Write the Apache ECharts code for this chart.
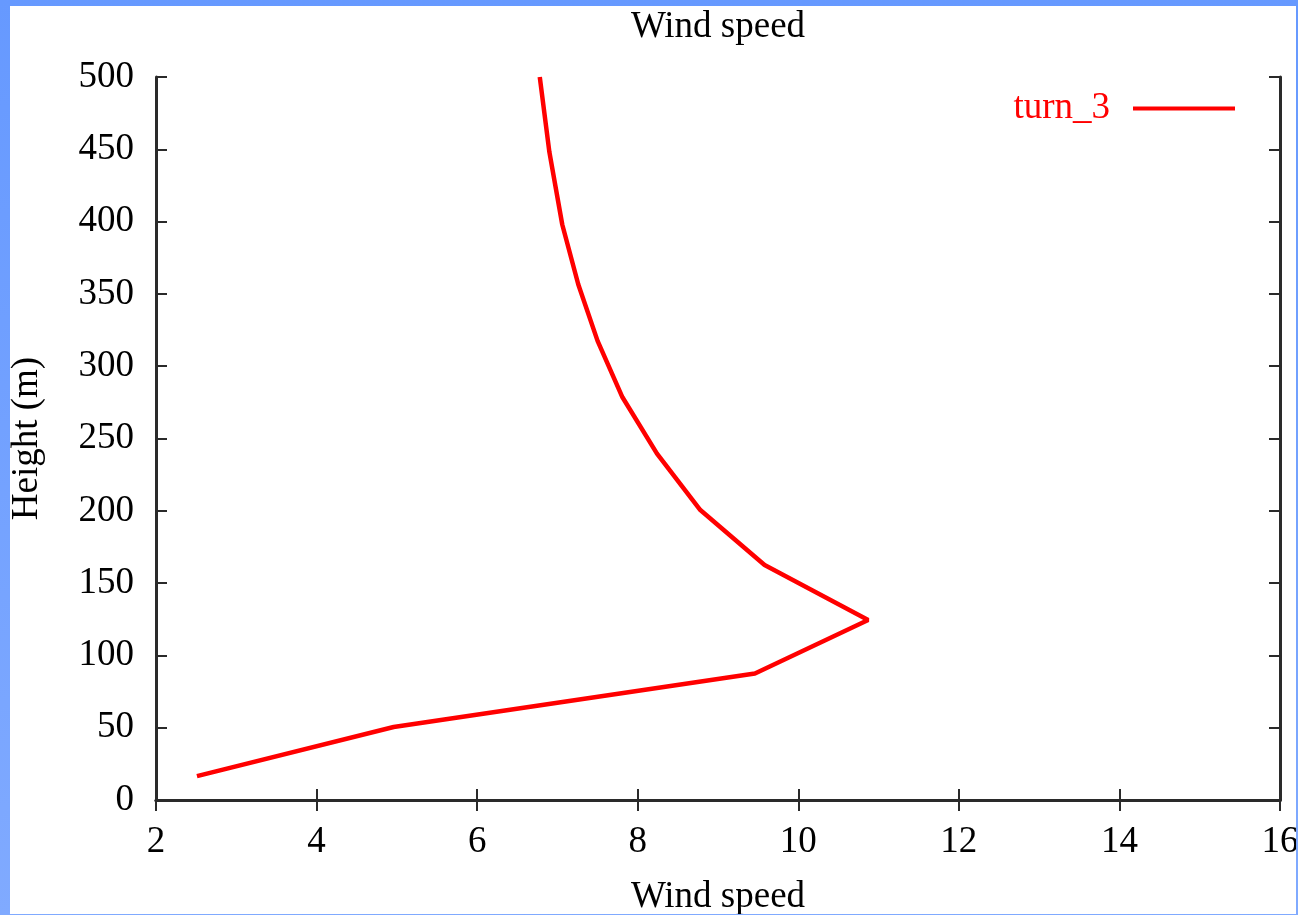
<!DOCTYPE html>
<html>
<head>
<meta charset="utf-8">
<script src="https://cdn.jsdelivr.net/npm/echarts@6/dist/echarts.min.js"></script>
<style>
  html, body { margin: 0; padding: 0; }
  body { width: 1298px; height: 915px; background: linear-gradient(to bottom, #6699ff, #80aaff); position: relative; overflow: hidden; }
  #chart { position: absolute; left: 10px; top: 6px; width: 1286px; height: 908px; background: #ffffff; }
</style>
</head>
<body>
<div id="chart"></div>
<script>
// Data
const seriesName = 'turn_3';
const windSpeed = [2.51, 4.96, 9.46, 10.87, 9.58, 8.78, 8.24, 7.81, 7.50, 7.26, 7.06, 6.90, 6.78];
const height    = [16.5, 50.5, 87.5, 124.5, 162.5, 200.5, 239.5, 278.5, 317.5, 356.5, 398, 448, 500];
const xTicks = [2, 4, 6, 8, 10, 12, 14, 16];
const yTicks = [0, 50, 100, 150, 200, 250, 300, 350, 400, 450, 500];

const FONT = '"Liberation Serif", "DejaVu Serif", serif';
const FS = 37;
const AX = '#2a2a2a';

const points = windSpeed.map((v, i) => [v, height[i]]);

const chart = echarts.init(document.getElementById('chart'), null, { renderer: 'canvas' });

const axisLineStyle = { color: AX, width: 3 };
const tickStyle = { color: AX, width: 2 };

chart.setOption({
  backgroundColor: '#ffffff',
  animation: false,
  title: {
    text: 'Wind speed',
    left: 703,
    top: -2,
    textAlign: 'center',
    textStyle: { fontFamily: FONT, fontSize: FS, fontWeight: 'normal', color: '#000' }
  },
  legend: {
    right: 56,
    top: 79,
    align: 'right',
    icon: 'rect',
    itemWidth: 102,
    itemHeight: 4,
    data: [{ name: seriesName, itemStyle: { color: '#ff0000' } }],
    textStyle: { fontFamily: FONT, fontSize: FS, color: '#ff0000', padding: [0, 18, 0, 0] }
  },
  grid: { left: 146, right: 16, top: 71, bottom: 114, containLabel: false, outerBoundsMode: 'none' },
  xAxis: [
    {
      type: 'value', min: xTicks[0], max: xTicks[xTicks.length - 1], interval: 2,
      name: 'Wind speed', nameLocation: 'middle', nameGap: 79,
      nameTextStyle: { fontFamily: FONT, fontSize: FS, color: '#000' },
      axisLine: { show: true, lineStyle: axisLineStyle },
      axisTick: { show: true, inside: true, length: 11, lineStyle: tickStyle },
      axisLabel: { fontFamily: FONT, fontSize: FS, color: '#000', margin: 24 },
      splitLine: { show: false }
    },
    {
      type: 'value', position: 'top', min: xTicks[0], max: xTicks[xTicks.length - 1], interval: 2,
      axisLine: { show: true, lineStyle: axisLineStyle },
      axisTick: { show: true, inside: true, length: 11, lineStyle: tickStyle },
      axisLabel: { show: false },
      splitLine: { show: false }
    }
  ],
  yAxis: [
    {
      type: 'value', min: yTicks[0], max: yTicks[yTicks.length - 1], interval: 50,
      name: 'Height (m)', nameLocation: 'middle', nameGap: 110, nameRotate: 90,
      nameTextStyle: { fontFamily: FONT, fontSize: FS, color: '#000' },
      axisLine: { show: true, lineStyle: axisLineStyle },
      axisTick: { show: true, inside: true, length: 11, lineStyle: tickStyle },
      axisLabel: { fontFamily: FONT, fontSize: FS, color: '#000', margin: 22 },
      splitLine: { show: false }
    },
    {
      type: 'value', position: 'right', min: yTicks[0], max: yTicks[yTicks.length - 1], interval: 50,
      axisLine: { show: true, lineStyle: axisLineStyle },
      axisTick: { show: true, inside: true, length: 11, lineStyle: tickStyle },
      axisLabel: { show: false },
      splitLine: { show: false }
    }
  ],
  series: [
    {
      name: seriesName,
      type: 'line',
      xAxisIndex: 0,
      yAxisIndex: 0,
      data: points,
      showSymbol: false,
      symbol: 'none',
      smooth: false,
      clip: true,
      lineStyle: { color: '#ff0000', width: 4.5 },
      itemStyle: { color: '#ff0000' }
    }
  ]
});
</script>
</body>
</html>
